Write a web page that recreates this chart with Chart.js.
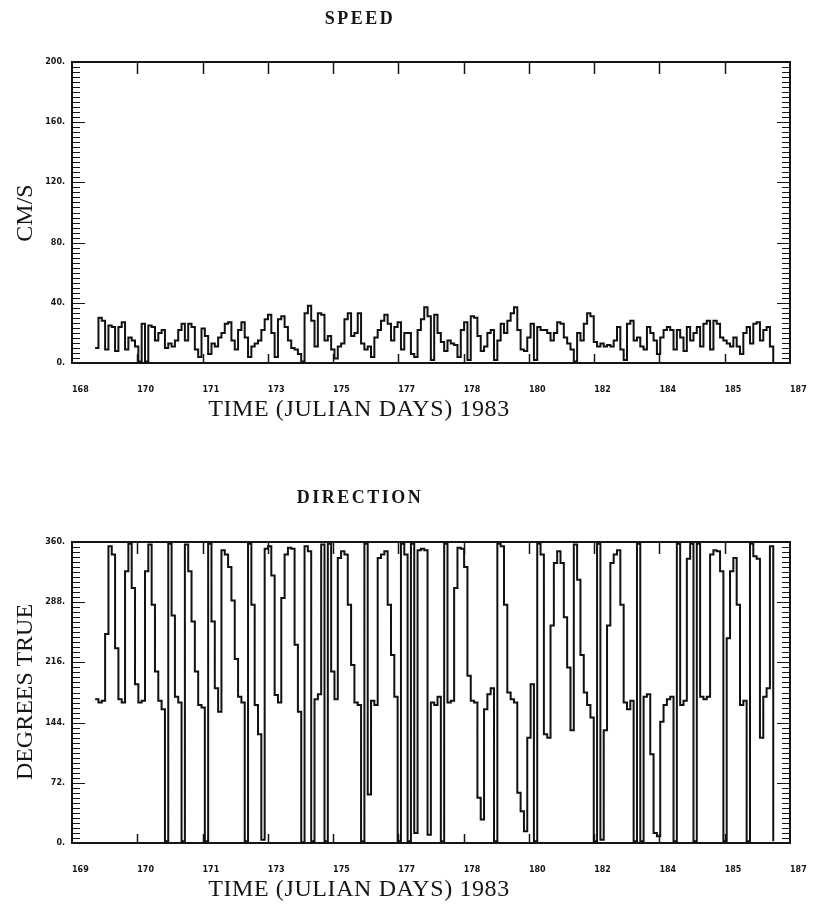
<!DOCTYPE html>
<html>
<head>
<meta charset="utf-8">
<title>Speed and direction, 1983</title>
<script src="https://cdn.jsdelivr.net/npm/chart.js@4.4.0/dist/chart.umd.min.js"></script>
<style>
  body { margin: 0; background: #fff; }
  #page { position: relative; width: 813px; height: 905px; overflow: hidden; }
  canvas { position: absolute; left: 0; }
  .lbl { position: absolute; font-family: "Liberation Serif", "Times New Roman", serif; color: #151515;
         white-space: nowrap; transform: translate(-50%, -50%); }
  .title { font-weight: bold; font-size: 18px; letter-spacing: 2.5px; }
  .xt { font-size: 24px; letter-spacing: 0.6px; }
  .yt { font-size: 24px; transform: translate(-50%, -50%) rotate(-90deg); }
</style>
</head>
<body>
<div id="page">
  <canvas id="speedChart" width="813" height="420" style="top:0"></canvas>
  <canvas id="directionChart" width="813" height="425" style="top:480px"></canvas>

  <div class="lbl title" style="left:360px; top:18px">SPEED</div>
  <div class="lbl yt" style="left:24px; top:213px">CM/S</div>
  <div class="lbl xt" style="left:359px; top:408px">TIME (JULIAN DAYS) 1983</div>

  <div class="lbl title" style="left:360px; top:497px">DIRECTION</div>
  <div class="lbl yt" style="left:24px; top:692px">DEGREES TRUE</div>
  <div class="lbl xt" style="left:359px; top:888px">TIME (JULIAN DAYS) 1983</div>
</div>

<script>
// Axis labels as printed on the plot
const xTickLabelsTop = ['168', '170', '171', '173', '175', '177', '178', '180', '182', '184', '185', '187'];
const xTickLabelsBottom = ['169', '170', '171', '173', '175', '177', '178', '180', '182', '184', '185', '187'];
const dayMin = 169;
const dayMax = 187;

// Sampling of the current meter record
const firstSampleDay = 169.58;
const sampleHours = 2;

// Speed, cm/s
const speed = [
    10, 30, 28, 9, 25, 24, 8, 24, 27, 9,
    17, 15, 11, 1, 26, 1, 25, 24, 15, 20,
    22, 10, 13, 11, 15, 22, 26, 15, 26, 24,
    9, 4, 23, 18, 6, 13, 11, 17, 20, 26,
    27, 15, 9, 22, 27, 17, 4, 11, 13, 15,
    22, 29, 32, 20, 4, 29, 31, 24, 15, 10,
    9, 6, 1, 33, 38, 28, 11, 33, 32, 15,
    18, 9, 3, 11, 13, 29, 33, 18, 20, 33,
    13, 9, 11, 4, 17, 22, 28, 32, 26, 15,
    24, 27, 9, 20, 20, 6, 4, 22, 29, 37,
    31,
    2, 32, 20, 14, 8, 15, 13, 12, 4, 22,
    27, 2, 31, 30, 18, 8, 11, 20, 22, 2,
    15, 26, 20, 28, 33, 37, 22, 9, 8, 17,
    26, 2, 24, 22, 22, 20, 15, 20, 27, 26,
    17, 13, 9, 1, 20, 15, 26, 33, 31, 14,
    11, 13, 11, 12, 11, 15, 24, 9, 2, 26,
    28, 15, 17, 11, 9, 24, 20, 15, 6, 17,
    22, 24, 22, 9, 22, 17, 8, 24, 15, 20,
    24, 11, 26, 28, 9, 28, 26, 17, 15, 13,
    11, 17, 11, 6, 20, 24, 13, 26, 27, 15,
    22, 24, 11, 0
];

// Direction, degrees true
const direction = [
    172, 168, 170, 250, 355, 345, 233, 172, 168, 325,
    358, 305, 190, 168, 170, 325, 357, 285, 205, 170,
    160, 2, 358, 272, 175, 168, 2, 357, 325, 265,
    205, 165, 162, 2, 358, 265, 185, 157, 350, 345,
    330, 290, 220, 175, 168, 2, 358, 285, 165, 130,
    4, 352, 355, 320, 177, 168, 293, 345, 353, 352,
    237, 157, 1, 355, 349, 2, 172, 178, 357, 2,
    358, 205, 172, 341, 349, 345, 285, 213, 168, 165,
    2, 358, 58, 170, 165, 341, 345, 349, 285, 225,
    175, 2, 358, 345, 2, 358, 12, 350, 352, 350,
    10, 168, 165, 175, 2, 358, 168, 170, 305, 353,
    352, 330, 200, 170, 168, 54, 28, 160, 178, 185,
    2, 358, 355, 285, 180, 172, 168, 60, 38, 14,
    126, 190, 2, 358, 345, 130, 126, 260, 335, 349,
    335, 270, 210, 135, 357, 315, 225, 180, 165, 150,
    2, 358, 4, 135, 260, 335, 345, 350, 285, 168,
    160, 170, 2, 358, 2, 175, 178, 106, 12, 8,
    145, 165, 172, 175, 2, 358, 165, 170, 340, 358,
    2, 358, 175, 172, 175, 345, 350, 349, 325, 2,
    245, 325, 341, 285, 165, 170, 2, 358, 343, 340,
    126, 175, 185, 355, 2
];

// Frame and inward tick marks, placed through the chart scales
const frameTicks = {
    id: 'frameTicks',
    afterDatasetsDraw(chart, args, opts) {
        const { ctx, chartArea: a, scales: { x, y } } = chart;
        ctx.save();
        ctx.strokeStyle = '#151515';
        ctx.lineWidth = 1.5;
        ctx.beginPath();
        x.ticks.forEach((t, i) => {
            if (i === 0 || i === x.ticks.length - 1) return;
            const px = Math.round(x.getPixelForValue(t.value)) + 0.5;
            ctx.moveTo(px, a.top);
            ctx.lineTo(px, a.top + 12);
            ctx.moveTo(px, a.bottom);
            ctx.lineTo(px, a.bottom - 9);
        });
        ctx.stroke();

        ctx.lineWidth = 1.2;
        ctx.beginPath();
        const n = opts.minorCount;
        for (let k = 1; k < n; k++) {
            const v = y.min + (y.max - y.min) * k / n;
            const py = Math.round(y.getPixelForValue(v)) + 0.5;
            const len = k % opts.perMajor === 0 ? 13 : 8;
            ctx.moveTo(a.left, py);
            ctx.lineTo(a.left + len, py);
            ctx.moveTo(a.right, py);
            ctx.lineTo(a.right - len, py);
        }
        ctx.stroke();

        ctx.lineWidth = 2;
        ctx.strokeRect(a.left, a.top, a.right - a.left, a.bottom - a.top);
        ctx.restore();
    }
};

function toPoints(values) {
    return values.map((v, i) => ({ x: firstSampleDay + i * sampleHours / 24, y: v }));
}

function createSeriesChart(canvasId, values, yMax, yStep, xLabels, axisHeight) {
    const ctx = document.getElementById(canvasId);
    const tickValues = xLabels.map((_, k) => dayMin + k * (dayMax - dayMin) / (xLabels.length - 1));

    return new Chart(ctx, {
        type: 'line',
        data: {
            datasets: [{
                data: toPoints(values),
                borderColor: '#111',
                borderWidth: 2,
                stepped: true,
                pointRadius: 0,
                fill: false
            }]
        },
        options: {
            responsive: false,
            animation: false,
            events: [],
            layout: { padding: { top: 62, right: 23, left: 0, bottom: 0 } },
            plugins: {
                legend: { display: false },
                tooltip: { enabled: false },
                frameTicks: { minorCount: 60, perMajor: 12 }
            },
            scales: {
                x: {
                    type: 'linear',
                    min: dayMin,
                    max: dayMax,
                    afterBuildTicks: scale => {
                        scale.ticks = tickValues.map(v => ({ value: v }));
                    },
                    afterFit: scale => {
                        scale.height = axisHeight;
                        scale.paddingLeft = 0;
                        scale.paddingRight = 0;
                    },
                    grid: { display: false, drawTicks: false },
                    border: { display: false },
                    ticks: {
                        autoSkip: false,
                        maxRotation: 0,
                        align: 'start',
                        padding: 22,
                        color: '#151515',
                        font: { family: 'DejaVu Sans', size: 8, weight: 'bold' },
                        callback: (value, index) => xLabels[index]
                    }
                },
                y: {
                    min: 0,
                    max: yMax,
                    afterFit: scale => {
                        scale.width = 72;
                        scale.paddingTop = 0;
                        scale.paddingBottom = 0;
                    },
                    grid: { display: false, drawTicks: false },
                    border: { display: false },
                    ticks: {
                        stepSize: yStep,
                        padding: 7,
                        color: '#151515',
                        font: { family: 'DejaVu Sans', size: 8, weight: 'bold' },
                        callback: value => value + '.'
                    }
                }
            }
        },
        plugins: [frameTicks]
    });
}

createSeriesChart('speedChart', speed, 200, 40, xTickLabelsTop, 57);
createSeriesChart('directionChart', direction, 360, 72, xTickLabelsBottom, 62);
</script>
</body>
</html>
